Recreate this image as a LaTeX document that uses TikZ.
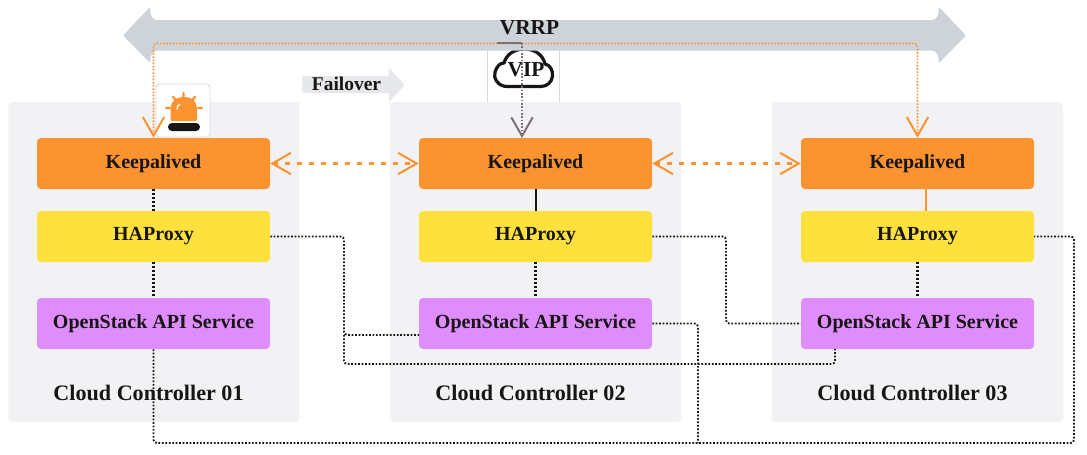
\documentclass[tikz,border=0pt]{standalone}
\usepackage{fontspec}
\setmainfont{Liberation Serif}
\usetikzlibrary{arrows.meta}
\definecolor{kporange}{HTML}{FB9330}
\definecolor{hayellow}{HTML}{FFE13E}
\definecolor{apipurple}{HTML}{DF8CFD}
\definecolor{panelgray}{HTML}{F2F2F5}
\definecolor{bandgray}{HTML}{CED2D9}
\definecolor{failgray}{HTML}{E6E8EC}
\definecolor{edgegray}{HTML}{D9DBE0}
\definecolor{vipline}{HTML}{7A6F78}
\definecolor{inkblack}{HTML}{181515}
\tikzset{
  panelbox/.style={draw=none,fill=panelgray,rounded corners=3pt,minimum width=218.5pt,minimum height=240pt,inner sep=0pt},
  svcbox/.style={draw=none,rounded corners=3pt,minimum width=174.75pt,minimum height=38.25pt,inner sep=0pt,font=\bfseries\fontsize{15pt}{16pt}\selectfont,text=inkblack},
  kpbox/.style={svcbox,fill=kporange},
  habox/.style={svcbox,fill=hayellow},
  apibox/.style={svcbox,fill=apipurple},
  ctrllabel/.style={inner sep=0pt,font=\bfseries\fontsize{16.6pt}{19pt}\selectfont,text=inkblack},
  framebox/.style={draw=edgegray,line width=.7pt,rounded corners=2.5pt,inner sep=0pt},
  dotline/.style={draw=inkblack,line width=1.4pt,dash pattern=on 1.3pt off 1.3pt,rounded corners=2.5pt},
  innerdot/.style={draw=inkblack,line width=1.7pt,dash pattern=on 1.5pt off 1.5pt},
  orangedots/.style={draw=kporange,line width=1.2pt,dash pattern=on 1.2pt off 1.2pt,rounded corners=2.5pt,
     {Straight Barb[length=14pt,width=16pt,line width=1.5pt]}-{Straight Barb[length=14pt,width=16pt,line width=1.5pt]}},
  orangedash/.style={draw=kporange,line width=1.7pt,dash pattern=on 3.5pt off 5.5pt,
     {Straight Barb[length=14pt,width=16pt,line width=1.5pt]}-{Straight Barb[length=14pt,width=16pt,line width=1.5pt]}},
  vipdots/.style={draw=vipline,line width=1.2pt,dash pattern=on 1.2pt off 1.3pt,rounded corners=1pt,
     -{Straight Barb[length=14pt,width=16pt,line width=1.5pt]}},
}
\begin{document}
\begin{tikzpicture}[x=.75pt,y=-.75pt]
\useasboundingbox (0,0) rectangle (1087,454);
% panels
\node[panelbox] (p1) at (154,262) {};
\node[panelbox] (p2) at (535.5,262) {};
\node[panelbox] (p3) at (917.5,262) {};
% frames
\node[framebox,fill=white,minimum width=40.5pt,minimum height=39.75pt] (alarmframe) at (183,110.5) {};
\draw[edgegray,line width=.7pt] (487,46) -- (487,102) (559.5,46) -- (559.5,102);
% alarm icon
\fill[kporange,rounded corners=1pt] (170.5,121) -- (170.5,110) .. controls (170.5,102) and (176,97) .. (184,97) .. controls (192,97) and (197,102) .. (197,110) -- (197,121) -- cycle;
\draw[kporange,line width=1.8pt,line cap=round] (183.5,93) -- (183.5,97) (166,108) -- (170,108) (198,108) -- (202,108) (173,97) -- (176,100) (195,97) -- (192,100);
\draw[white,line width=1pt,line cap=round] (177,109) .. controls (177,107) and (178,105) .. (180,104);
\fill[inkblack,rounded corners=3pt] (168,123) rectangle (200,131);
% cloud
\draw[inkblack,fill=white,line width=2.4pt,line join=round] (507,86.5) .. controls (498,86.5) and (493,78) .. (495,72) .. controls (497,66) and (500,63) .. (504,63) .. controls (506,55) and (514,49) .. (524,49) .. controls (535,49) and (543,55) .. (545,64) .. controls (550,65) and (553,70) .. (552.5,76) .. controls (552,82) and (547,86.5) .. (541,86.5) -- cycle;
% band arrow
\fill[bandgray,rounded corners=1pt] (123,35.5) -- (150,7) -- (151,16) -- (155,20) -- (934,20) -- (938,16) -- (939,7) -- (966,35.5) -- (939,63) -- (938,55) -- (934,50.5) -- (155,50.5) -- (151,55) -- (150,63) -- cycle;
% failover arrow
\fill[failgray,rounded corners=1.5pt] (302,76) -- (389,76) -- (389,68) -- (405,85) -- (389,102) -- (389,93) -- (302,93) -- cycle;
% boxes
\foreach \nm/\cx in {1/153.5,2/535.5,3/917.5}{
  \node[kpbox] (k\nm) at (\cx,163.5) {\raisebox{3.2pt}{Keepalived}};
  \node[habox] (h\nm) at (\cx,236.5) {\raisebox{3.2pt}{HAProxy}};
  \node[apibox] (a\nm) at (\cx,323.5) {\raisebox{3.2pt}{OpenStack API Service}};
}
\node[ctrllabel] (c1) at (148.5,393) {Cloud Controller 01};
\node[ctrllabel] (c2) at (530.5,393) {Cloud Controller 02};
\node[ctrllabel] (c3) at (912.5,393) {Cloud Controller 03};
% routing points
\coordinate (vrrpmid) at (530,43.5);
\coordinate (vipstart) at (497,43);
\coordinate (vipcorner) at (522,43);
\coordinate (viptip) at (522,138);
\coordinate (k2stem) at (536,189);
\coordinate (h2stem) at (536,211);
\coordinate (k3stem) at (926,189);
\coordinate (h3stem) at (926,211);
\coordinate (a3bot) at (835,349);
\coordinate (a2in) at (419,335);
\coordinate (h3out) at (1034,236.5);
% links inside the controllers
\draw[innerdot] (k1.south) -- (h1.north);
\draw[innerdot] (h1.south) -- (a1.north);
\draw[innerdot] (h2.south) -- (a2.north);
\draw[innerdot] (h3.south) -- (a3.north);
\draw[inkblack,line width=2pt] (k2stem) -- (h2stem);
\draw[kporange,line width=1.5pt] (k3stem) -- (h3stem);
% long dotted links
\draw[dotline] (h1.east) -- (344,236.5) -- (344,335) -- (a2in);
\draw[dotline] (344,335) -- (344,364) -- (835,364) -- (a3bot);
\draw[dotline] (h2.east) -- (726,236.5) -- (726,323.5) -- (a3.west);
\draw[dotline] (a2.east) -- (698,323.5) -- (698,443);
\draw[dotline] (a1.south) -- (153.5,443) -- (1074,443) -- (1074,236.5) -- (h3out);
% vrrp links
\draw[orangedots] (k1.north) |- (vrrpmid) -| (k3.north);
\draw[vipline,line width=.9pt] (vipstart) -- (vipcorner);
\draw[vipdots] (vipcorner) -- (viptip);
\draw[orangedash] (k1.east) -- (k2.west);
\draw[orangedash] (k2.east) -- (k3.west);
% labels
\node[inner sep=0pt,font=\bfseries\fontsize{16pt}{18pt}\selectfont,text=inkblack] (vrrp) at (529.5,27.5) {VRRP};
\node[inner sep=0pt,font=\bfseries\fontsize{16pt}{18pt}\selectfont,text=inkblack] (vip) at (526,70) {VIP};
\node[inner sep=0pt,font=\bfseries\fontsize{14.6pt}{16pt}\selectfont,text=inkblack] (failover) at (346.5,84) {Failover};
\end{tikzpicture}
\end{document}
